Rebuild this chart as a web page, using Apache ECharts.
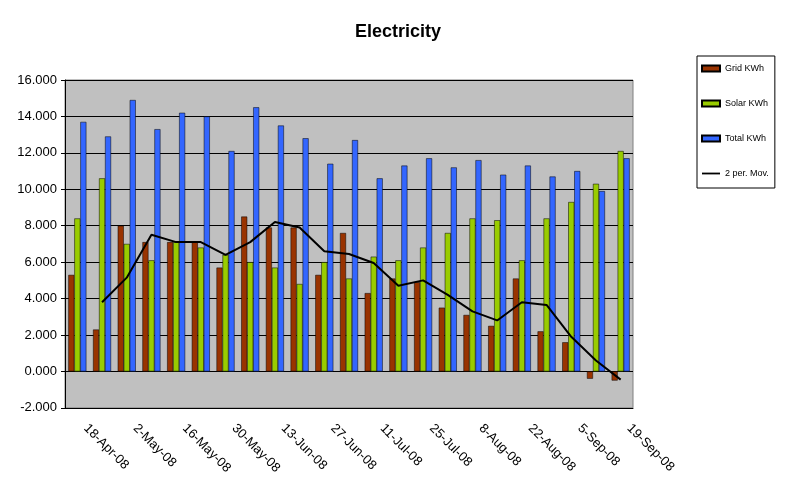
<!DOCTYPE html><html><head><meta charset="utf-8"><script src="https://cdn.jsdelivr.net/npm/echarts@6/dist/echarts.min.js"></script></head><body style="margin:0;background:#fff"><div id="c" style="width:789px;height:477px"></div><script>
const categories=['18-Apr-08','25-Apr-08','2-May-08','9-May-08','16-May-08','23-May-08','30-May-08','6-Jun-08','13-Jun-08','20-Jun-08','27-Jun-08','4-Jul-08','11-Jul-08','18-Jul-08','25-Jul-08','1-Aug-08','8-Aug-08','15-Aug-08','22-Aug-08','29-Aug-08','5-Sep-08','12-Sep-08','19-Sep-08'];
const grid=[5.3,2.3,8.0,7.1,7.1,7.1,5.7,8.5,7.9,7.9,5.3,7.6,4.3,5.1,4.9,3.5,3.1,2.5,5.1,2.2,1.6,-0.4,-0.5];
const solar=[8.4,10.6,7.0,6.1,7.1,6.8,6.4,6.0,5.7,4.8,6.0,5.1,6.3,6.1,6.8,7.6,8.4,8.3,6.1,8.4,9.3,10.3,12.1];
const total=[13.7,12.9,14.9,13.3,14.2,14.0,12.1,14.5,13.5,12.8,11.4,12.7,10.6,11.3,11.7,11.2,11.6,10.8,11.3,10.7,11.0,9.9,11.7];
const mov=[null,3.8,5.15,7.5,7.1,7.1,6.4,7.1,8.2,7.9,6.6,6.45,5.95,4.7,5.0,4.2,3.3,2.8,3.8,3.65,1.9,0.6,-0.45];
const ch=echarts.init(document.getElementById('c'));
const ts={fontFamily:'Liberation Sans, Arial',color:'#000'};
ch.setOption({animation:false,
title:{text:'Electricity',left:393,top:18,textAlign:'center',textStyle:{...ts,fontSize:18,fontWeight:'bold'}},
legend:{orient:'vertical',left:697,top:56,itemGap:26,itemWidth:18,itemHeight:6,textStyle:{...ts,fontSize:9},
 borderColor:'#000',borderWidth:1,padding:[8,6,10,4],
 data:[{name:'Grid KWh',icon:'rect'},{name:'Solar KWh',icon:'rect'},{name:'Total KWh',icon:'rect'},{name:'2 per. Mov.',icon:'path://M0,0H10V1H0Z'}]},
grid:{left:65,right:156,top:80,bottom:47,show:true,backgroundColor:'#c0c0c0',borderColor:'#808080',borderWidth:1},
xAxis:{type:'category',data:categories,axisTick:{show:false},axisLine:{onZero:false,lineStyle:{color:'#000'}},
 axisLabel:{...ts,fontSize:13,rotate:-45,interval:1,margin:10,align:'left',padding:[0,0,0,12]}},
yAxis:{type:'value',min:-2,max:16,interval:2,axisLine:{show:true,lineStyle:{color:'#000'}},axisTick:{show:true,length:4},
 splitLine:{lineStyle:{color:'#000',width:1}},axisLabel:{...ts,fontSize:13,formatter:v=>v.toFixed(3)}},
series:[
{name:'Grid KWh',type:'bar',data:grid,barWidth:6,barGap:'0%',itemStyle:{color:'#993300',borderColor:'#000',borderWidth:0.5}},
{name:'Solar KWh',type:'bar',data:solar,barWidth:6,barGap:'0%',itemStyle:{color:'#99cc00',borderColor:'#000',borderWidth:0.5}},
{name:'Total KWh',type:'bar',data:total,barWidth:6,barGap:'0%',itemStyle:{color:'#3366ff',borderColor:'#000',borderWidth:0.5}},
{name:'2 per. Mov.',type:'line',data:mov,symbol:'none',lineStyle:{color:'#000',width:2},itemStyle:{color:'#000'}}
]});
</script></body></html>
